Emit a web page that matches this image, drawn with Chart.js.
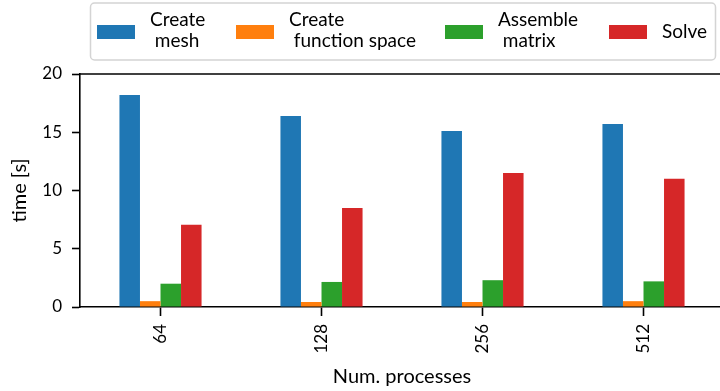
<!DOCTYPE html>
<html>
<head>
<meta charset="utf-8">
<script src="https://cdn.jsdelivr.net/npm/chart.js@4/dist/chart.umd.min.js"></script>
<style>
  html, body { margin: 0; padding: 0; background: #fff; overflow: hidden; }
  #wrap { width: 720px; height: 391px; overflow: hidden; }
  canvas { display: block; }
</style>
</head>
<body>
<div id="wrap"><canvas id="chart" width="724" height="391"></canvas></div>
<script>
// Timing breakdown per number of MPI processes
const categories = ['64', '128', '256', '512'];
const seriesLabels = ['Create\n mesh', 'Create\n function space', 'Assemble\n matrix', 'Solve'];
const createMesh = [18.2, 16.4, 15.1, 15.7];
const createFunctionSpace = [0.5, 0.43, 0.43, 0.5];
const assembleMatrix = [2.0, 2.15, 2.3, 2.2];
const solve = [7.05, 8.5, 11.5, 11.0];
const yTicks = [0, 5, 10, 15, 20];

const colors = ['#1f77b4', '#ff7f0e', '#2ca02c', '#d62728'];
const FONT = 'Lato, "Open Sans", sans-serif';

// Legend drawn as a framed row with multi-line labels
const legendColumns = [97, 236, 445, 609];
const frameLegend = {
  id: 'frameLegend',
  afterDraw(chart) {
    const ctx = chart.ctx;
    ctx.save();
    // frame
    const x0 = 90.5, y0 = 3, x1 = 715.5, y1 = 60, r = 4;
    ctx.beginPath();
    ctx.moveTo(x0 + r, y0);
    ctx.lineTo(x1 - r, y0);
    ctx.arcTo(x1, y0, x1, y0 + r, r);
    ctx.lineTo(x1, y1 - r);
    ctx.arcTo(x1, y1, x1 - r, y1, r);
    ctx.lineTo(x0 + r, y1);
    ctx.arcTo(x0, y1, x0, y1 - r, r);
    ctx.lineTo(x0, y0 + r);
    ctx.arcTo(x0, y0, x0 + r, y0, r);
    ctx.closePath();
    ctx.fillStyle = 'rgba(255,255,255,0.8)';
    ctx.fill();
    ctx.strokeStyle = '#d4d4d4';
    ctx.lineWidth = 1.5;
    ctx.stroke();

    ctx.font = '19px ' + FONT;
    ctx.textAlign = 'left';
    ctx.textBaseline = 'alphabetic';
    chart.data.datasets.forEach((ds, i) => {
      const x = legendColumns[i];
      ctx.fillStyle = ds.backgroundColor;
      ctx.fillRect(x, 25, 38, 14);
      ctx.fillStyle = '#000';
      const lines = ds.label.split('\n');
      if (lines.length === 1) {
        ctx.fillText(lines[0], x + 53, 38);
      } else {
        ctx.fillText(lines[0], x + 53, 26);
        ctx.fillText(lines[1], x + 53, 47);
      }
    });
    ctx.restore();
  }
};

// Top spine of the axes box
const topSpine = {
  id: 'topSpine',
  afterDraw(chart) {
    const {ctx, chartArea} = chart;
    ctx.save();
    ctx.strokeStyle = '#000';
    ctx.lineWidth = 1.6;
    ctx.beginPath();
    ctx.moveTo(chartArea.left - 0.8, chartArea.top);
    ctx.lineTo(chartArea.right, chartArea.top);
    ctx.stroke();
    ctx.restore();
  }
};

const seriesValues = [createMesh, createFunctionSpace, assembleMatrix, solve];

new Chart(document.getElementById('chart'), {
  type: 'bar',
  data: {
    labels: categories,
    datasets: seriesValues.map((vals, i) => ({
      label: seriesLabels[i],
      data: vals,
      backgroundColor: colors[i],
      borderWidth: 0,
      barPercentage: 1.0,
      categoryPercentage: 0.51
    }))
  },
  options: {
    responsive: false,
    animation: false,
    devicePixelRatio: 1,
    layout: { padding: { top: 74, left: 0, right: 0, bottom: 0 } },
    plugins: {
      legend: { display: false },
      tooltip: { enabled: false }
    },
    scales: {
      x: {
        offset: true,
        grid: {
          display: true, drawOnChartArea: false, drawTicks: true,
          tickLength: 9, tickColor: '#000', tickWidth: 1.6, offset: false
        },
        border: { display: true, color: '#000', width: 1.6 },
        ticks: {
          minRotation: 90, maxRotation: 90, padding: 8,
          color: '#000', font: { family: FONT, size: 17 }
        },
        title: {
          display: true, text: 'Num. processes', color: '#000',
          font: { family: FONT, size: 20 }, padding: { top: 0, bottom: 2 }
        },
        afterFit(scale) { scale.height = 84; }
      },
      y: {
        min: 0, max: 20,
        afterBuildTicks(scale) { scale.ticks = yTicks.map(v => ({ value: v })); },
        grid: {
          display: true, drawOnChartArea: false, drawTicks: true,
          tickLength: 8, tickColor: '#000', tickWidth: 1.6
        },
        border: { display: true, color: '#000', width: 1.6 },
        ticks: {
          padding: 10, color: '#000', font: { family: FONT, size: 17 }
        },
        title: {
          display: true, text: 'time [s]', color: '#000',
          font: { family: FONT, size: 20 }, padding: { top: 8, bottom: 0 }
        },
        afterFit(scale) { scale.width = 80; }
      }
    }
  },
  plugins: [frameLegend, topSpine]
});
</script>
</body>
</html>
